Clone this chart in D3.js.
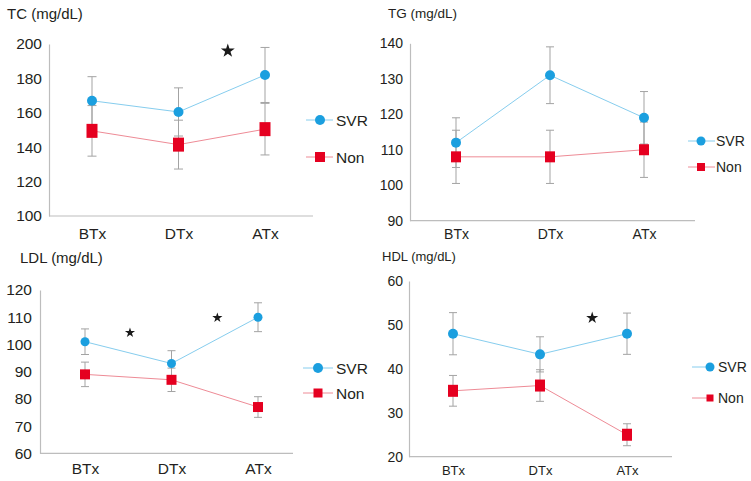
<!DOCTYPE html>
<html><head><meta charset="utf-8">
<script src="https://cdn.jsdelivr.net/npm/d3@7"></script>
<style>
html,body{margin:0;padding:0;background:#fff;}
svg{display:block;font-family:"Liberation Sans",Arial,sans-serif;}
</style></head>
<body>
<svg id="chart" width="751" height="481"></svg>
<script>
// ---------- data ----------
const categories = ["BTx", "DTx", "ATx"];
const seriesNames = ["SVR", "Non"];

const tcTicks = [100, 120, 140, 160, 180, 200];
const tcSVR = [167, 160.5, 182];
const tcSVRErr = [14, 14, 16];
const tcNon = [149.5, 141.5, 150.5];
const tcNonErr = [14.7, 14.2, 15];
const tcStars = [[1.57, 196]];

const tgTicks = [90, 100, 110, 120, 130, 140];
const tgSVR = [112, 131, 119];
const tgSVRErr = [7, 8, 7.4];
const tgNon = [108, 108, 110];
const tgNonErr = [7.5, 7.5, 7.8];
const tgStars = [];

const ldlTicks = [60, 70, 80, 90, 100, 110, 120];
const ldlSVR = [101, 93, 110];
const ldlSVRErr = [4.7, 4.7, 5.3];
const ldlNon = [89, 87, 77];
const ldlNonErr = [4.5, 4.3, 3.8];
const ldlStars = [[0.52, 104.3], [1.53, 109.8]];

const hdlTicks = [20, 30, 40, 50, 60];
const hdlSVR = [48, 43.3, 48];
const hdlSVRErr = [4.8, 4, 4.7];
const hdlNon = [35, 36.2, 25];
const hdlNonErr = [3.5, 3.6, 2.5];
const hdlStars = [[1.6, 51.6]];

// ---------- styles ----------
const BLUE = "#1b9fdf", BLUE_LINE = "#86cdee";
const RED = "#e50020", RED_LINE = "#ee8b96";
const ERR = "#a3a3a3", AXIS = "#bdbdbd", TEXT = "#231f20";

const svg = d3.select("#chart");

function panel(o) {
  const g = svg.append("g");
  const y = d3.scaleLinear().domain(o.domain).range([o.bottom, o.top]);
  const xi = d3.scaleLinear().domain([0, 2]).range([o.cx[0], o.cx[1]]);
  const x = d3.scalePoint().domain(categories).range([o.cx[0], o.cx[1]]);

  // title
  g.append("text").attr("x", o.titleX).attr("y", o.titleY)
    .attr("font-size", o.titleSize).attr("fill", TEXT).text(o.title);

  // y axis
  const ya = g.append("g").attr("transform", `translate(${o.axisX},0)`)
    .call(d3.axisLeft(y).tickValues(o.ticks).tickSize(0).tickPadding(o.tickPad));
  ya.select(".domain").attr("stroke", AXIS).attr("stroke-width", 1.2);
  ya.selectAll("text").attr("font-size", o.tickSize).attr("fill", TEXT)
    .attr("font-family", "Liberation Sans, Arial, sans-serif");

  // x axis
  const xa = g.append("g").attr("transform", `translate(0,${o.bottom})`)
    .call(d3.axisBottom(x).tickSize(0).tickPadding(o.catPad));
  xa.select(".domain").attr("d", `M${o.axisX},0H${o.axisEnd}`)
    .attr("stroke", AXIS).attr("stroke-width", 1.2);
  xa.selectAll("text").attr("font-size", o.catSize).attr("fill", TEXT)
    .attr("font-family", "Liberation Sans, Arial, sans-serif");

  const series = [
    {name: seriesNames[0], v: o.svr, e: o.svrErr, color: BLUE, line: BLUE_LINE, shape: "circle"},
    {name: seriesNames[1], v: o.non, e: o.nonErr, color: RED, line: RED_LINE, shape: "rect"}
  ];
  const line = d3.line().x((d, i) => x(categories[i])).y(d => y(d));

  series.forEach(s => {
    g.append("path").attr("d", line(s.v)).attr("fill", "none")
      .attr("stroke", s.line).attr("stroke-width", 1);
  });
  // error bars
  series.forEach(s => {
    s.v.forEach((v, i) => {
      const cx = x(categories[i]);
      const eg = g.append("g").attr("stroke", ERR).attr("stroke-width", 1);
      eg.append("line").attr("x1", cx).attr("x2", cx).attr("y1", y(v - s.e[i])).attr("y2", y(v + s.e[i]));
      [v - s.e[i], v + s.e[i]].forEach(t => {
        eg.append("line").attr("x1", cx - o.cap).attr("x2", cx + o.cap).attr("y1", y(t)).attr("y2", y(t));
      });
    });
  });
  // markers
  series.forEach(s => {
    s.v.forEach((v, i) => {
      const cx = x(categories[i]);
      if (s.shape === "circle") {
        g.append("circle").attr("cx", cx).attr("cy", y(v)).attr("r", o.r).attr("fill", s.color);
      } else {
        g.append("rect").attr("x", cx - o.sqW / 2).attr("y", y(v) - o.sqH / 2)
          .attr("width", o.sqW).attr("height", o.sqH).attr("fill", s.color);
      }
    });
  });
  // stars
  o.stars.forEach(st => {
    g.append("path").attr("d", d3.symbol(d3.symbolStar, o.starSize)())
      .attr("transform", `translate(${xi(st[0])},${y(st[1])})`).attr("fill", "#1a1a1a");
  });
  // legend
  series.forEach((s, k) => {
    const ly = o.legY[k];
    g.append("line").attr("x1", o.legLine[0]).attr("x2", o.legLine[1]).attr("y1", ly).attr("y2", ly)
      .attr("stroke", s.line).attr("stroke-width", 1);
    if (s.shape === "circle") {
      g.append("circle").attr("cx", o.legMark).attr("cy", ly).attr("r", o.legR).attr("fill", s.color);
    } else {
      g.append("rect").attr("x", o.legMark - o.legSq / 2).attr("y", ly - o.legSq / 2)
        .attr("width", o.legSq).attr("height", o.legSq).attr("fill", s.color);
    }
    g.append("text").attr("x", o.legText).attr("y", ly).attr("dy", "0.36em")
      .attr("font-size", o.legSize).attr("fill", TEXT).text(s.name);
  });
}

panel({title: "TC (mg/dL)", titleX: 7, titleY: 19, titleSize: 15,
  domain: [100, 200], ticks: tcTicks, top: 44, bottom: 216, axisX: 49, axisEnd: 313,
  cx: [92, 265], tickPad: 7, tickSize: 15.5, catPad: 12, catSize: 15.5,
  svr: tcSVR, svrErr: tcSVRErr, non: tcNon, nonErr: tcNonErr, stars: tcStars, starSize: 60,
  r: 5, sqW: 11, sqH: 14, cap: 4.5,
  legY: [120, 157], legLine: [306, 333], legMark: 320, legR: 5, legSq: 10, legText: 336, legSize: 15.5});

panel({title: "TG (mg/dL)", titleX: 388, titleY: 18, titleSize: 13.5,
  domain: [90, 140], ticks: tgTicks, top: 43.3, bottom: 220.7, axisX: 410, axisEnd: 695,
  cx: [456, 644], tickPad: 7, tickSize: 14, catPad: 8, catSize: 14,
  svr: tgSVR, svrErr: tgSVRErr, non: tgNon, nonErr: tgNonErr, stars: tgStars, starSize: 50,
  r: 5, sqW: 10, sqH: 11, cap: 4,
  legY: [141, 167], legLine: [688, 715], legMark: 701, legR: 4.5, legSq: 8, legText: 716, legSize: 14});

panel({title: "LDL (mg/dL)", titleX: 20, titleY: 263, titleSize: 15,
  domain: [60, 120], ticks: ldlTicks, top: 290, bottom: 453.3, axisX: 40, axisEnd: 293,
  cx: [85, 258], tickPad: 8, tickSize: 15.5, catPad: 10, catSize: 15.5,
  svr: ldlSVR, svrErr: ldlSVRErr, non: ldlNon, nonErr: ldlNonErr, stars: ldlStars, starSize: 32,
  r: 4.5, sqW: 10, sqH: 10, cap: 4,
  legY: [368, 393], legLine: [303, 333], legMark: 318, legR: 5, legSq: 9, legText: 336, legSize: 15.5});

panel({title: "HDL (mg/dL)", titleX: 382, titleY: 261, titleSize: 13,
  domain: [20, 60], ticks: hdlTicks, top: 281, bottom: 456.7, axisX: 409, axisEnd: 672,
  cx: [453, 627], tickPad: 6, tickSize: 14, catPad: 9, catSize: 13,
  svr: hdlSVR, svrErr: hdlSVRErr, non: hdlNon, nonErr: hdlNonErr, stars: hdlStars, starSize: 45,
  r: 5, sqW: 10, sqH: 12, cap: 4,
  legY: [367, 398], legLine: [692, 713], legMark: 710, legR: 4.5, legSq: 7, legText: 718, legSize: 14});
</script>
</body></html>
